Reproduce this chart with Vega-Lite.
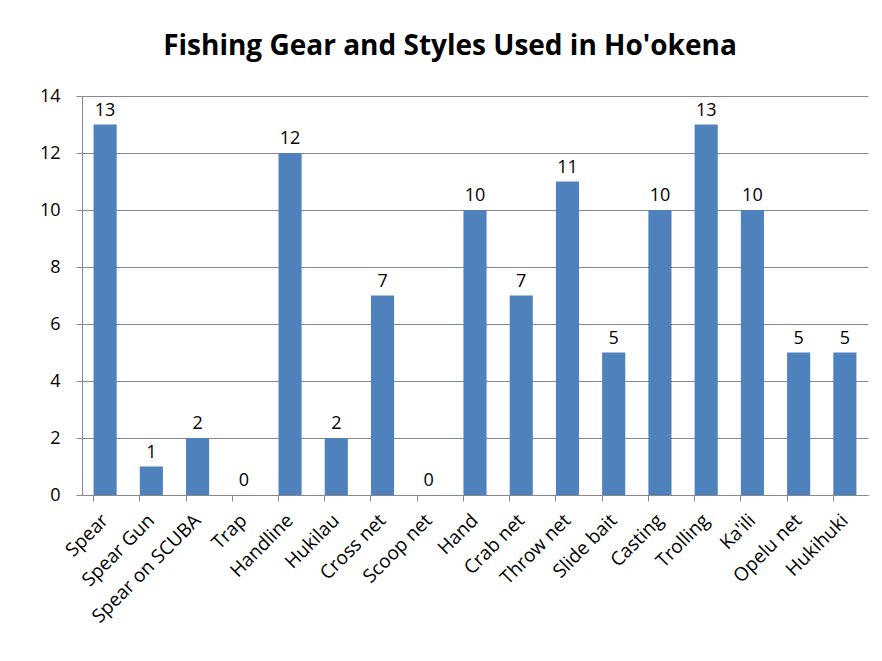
{
  "$schema": "https://vega.github.io/schema/vega-lite/v6.json",
  "autosize": {"type": "none"},
  "width": 786,
  "height": 399,
  "padding": {"left": 82, "top": 96, "right": 14, "bottom": 166},
  "background": "white",
  "title": {
    "text": "Fishing Gear and Styles Used in Ho'okena",
    "font": "Open Sans",
    "fontSize": 28,
    "fontWeight": "bold",
    "color": "#000000",
    "anchor": "middle",
    "dx": -25,
    "offset": 26
  },
  "data": {
    "values": [
      {"gear": "Spear", "count": 13},
      {"gear": "Spear Gun", "count": 1},
      {"gear": "Spear on SCUBA", "count": 2},
      {"gear": "Trap", "count": 0},
      {"gear": "Handline", "count": 12},
      {"gear": "Hukilau", "count": 2},
      {"gear": "Cross net", "count": 7},
      {"gear": "Scoop net", "count": 0},
      {"gear": "Hand", "count": 10},
      {"gear": "Crab net", "count": 7},
      {"gear": "Throw net", "count": 11},
      {"gear": "Slide bait", "count": 5},
      {"gear": "Casting", "count": 10},
      {"gear": "Trolling", "count": 13},
      {"gear": "Ka'ili", "count": 10},
      {"gear": "Opelu net", "count": 5},
      {"gear": "Hukihuki", "count": 5}
    ]
  },
  "encoding": {
    "x": {
      "field": "gear",
      "type": "nominal",
      "sort": null,
      "scale": {"paddingInner": 0.5, "paddingOuter": 0.25},
      "axis": {
        "title": null,
        "labelAngle": -45,
        "labelAlign": "right",
        "labelBaseline": "middle",
        "labelFont": "Open Sans",
        "labelFontSize": 19,
        "labelColor": "#000000",
        "labelPadding": 16,
        "bandPosition": 0,
        "labelOffset": 0,
        "tickSize": 6,
        "tickColor": "#888888",
        "domainColor": "#888888",
        "grid": false
      }
    },
    "y": {
      "field": "count",
      "type": "quantitative",
      "scale": {"domain": [0, 14]},
      "axis": {
        "title": null,
        "values": [0, 2, 4, 6, 8, 10, 12, 14],
        "labelFont": "Open Sans",
        "labelFontSize": 18,
        "labelColor": "#000000",
        "labelPadding": 16,
        "tickSize": 6,
        "tickColor": "#888888",
        "domainColor": "#888888",
        "gridColor": "#888888",
        "gridOpacity": 1
      }
    }
  },
  "layer": [
    {"mark": {"type": "bar", "color": "#4F81BD"}},
    {
      "mark": {"type": "text", "baseline": "bottom", "dy": -5, "font": "Open Sans", "fontSize": 18, "color": "#000000"},
      "encoding": {"text": {"field": "count", "type": "quantitative"}}
    }
  ],
  "config": {"view": {"stroke": null}}
}
